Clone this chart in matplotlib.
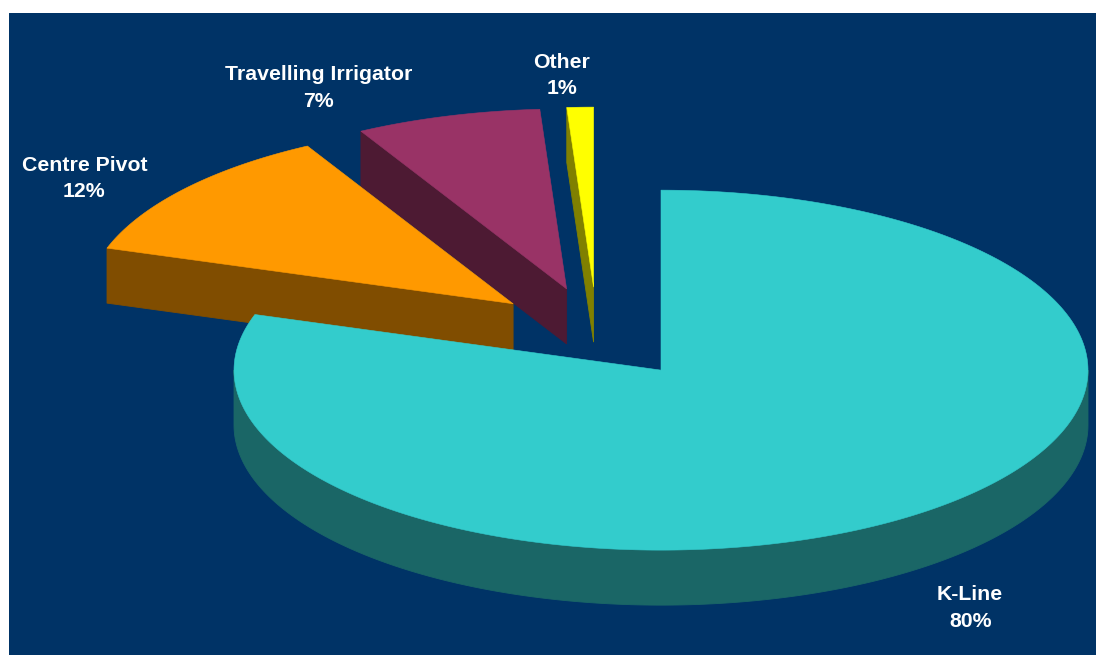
import numpy as np
import matplotlib
matplotlib.use("Agg")
import matplotlib.pyplot as plt
from matplotlib.patches import Polygon

# Irrigation method shares (percent)
categories = ["K-Line", "Centre Pivot", "Travelling Irrigator", "Other"]
shares = [80, 12, 7, 1]
top_colors = ["#33CCCC", "#FF9900", "#993366", "#FFFF00"]
side_colors = ["#1A6666", "#804D00", "#4D1A33", "#808000"]
# small hand adjustments of label placement (pixels)
label_nudge = [(0, 0), (-4, 1), (-23, 12), (-17, 9)]

W, H = 1096, 655
fig = plt.figure(figsize=(W / 100, H / 100), dpi=100)
fig.patch.set_facecolor("white")

# panel in pixel units (y grows downward)
left, top = 9, 13
ax = fig.add_axes([left / W, 0, (W - left) / W, (H - top) / H])
ax.set_facecolor("#003366")
ax.set_xlim(left, W)
ax.set_ylim(H, top)
ax.set_axis_off()
ax.add_patch(plt.Rectangle((left, top), W - left, H - top, color="#003366", zorder=0))

# pie geometry (projected ellipse)
cx, cy = 597.0, 333.0
rx, ry = 427.0, 180.0
depth = 55.0
explode = 0.255
start_angle = 90.0


def rim(px, py, t):
    return px + rx * np.cos(t), py - ry * np.sin(t)


fracs = np.array(shares, dtype=float) / np.sum(shares)
slices = []
a_end = np.deg2rad(start_angle)
for i, f in enumerate(fracs):
    a_start = a_end - f * 2 * np.pi  # clockwise
    mid = 0.5 * (a_start + a_end)
    px = cx + explode * rx * np.cos(mid)
    py = cy - explode * ry * np.sin(mid)
    slices.append(dict(i=i, a1=a_start, a2=a_end, mid=mid, px=px, py=py))
    a_end = a_start

# paint from back to front
for s in sorted(slices, key=lambda d: d["py"]):
    i, a1, a2, px, py = s["i"], s["a1"], s["a2"], s["px"], s["py"]
    top_c, side_c = top_colors[i], side_colors[i]
    z = 2 + s["py"] / 1000

    # radial side faces facing the viewer
    for ang, visible in ((a2, np.cos(a2) < -1e-6), (a1, np.cos(a1) > 1e-6)):
        if visible:
            ex, ey = rim(px, py, ang)
            quad = [(px, py), (ex, ey), (ex, ey + depth), (px, py + depth)]
            ax.add_patch(Polygon(quad, closed=True, fc=side_c, ec=side_c, lw=0.6, zorder=z))

    # curved outer side on the front half
    segs = []
    lo, hi = max(a1, np.pi), min(a2, 2 * np.pi)
    if lo < hi:
        segs.append((lo, hi))
    lo2, hi2 = max(a1, -np.pi), min(a2, 0.0)
    if lo2 < hi2:
        segs.append((lo2, hi2))
    for lo_, hi_ in segs:
        t = np.linspace(lo_, hi_, 200)
        xs, ys = rim(px, py, t)
        pts = list(zip(xs, ys)) + list(zip(xs[::-1], ys[::-1] + depth))
        ax.add_patch(Polygon(pts, closed=True, fc=side_c, ec=side_c, lw=0.6, zorder=z + 0.0001))

    # top face
    t = np.linspace(a1, a2, 400)
    xs, ys = rim(px, py, t)
    pts = [(px, py)] + list(zip(xs, ys))
    ax.add_patch(Polygon(pts, closed=True, fc=top_c, ec=top_c, lw=0.4, zorder=z + 0.0002))

    # label outside the rim
    c, sn = np.cos(s["mid"]), np.sin(s["mid"])
    lx = px + 1.1 * rx * c + label_nudge[i][0]
    ly = py - 1.1 * ry * sn + label_nudge[i][1]
    if sn < 0:
        ly += depth
    ha = "center" if abs(c) < 0.2 else ("left" if c > 0 else "right")
    va = "bottom" if sn > 0.7 else ("top" if sn < -0.7 else "center")
    ax.text(lx, ly, f"{categories[i]}\n{shares[i]}%", color="white",
            fontsize=15.3, fontweight="bold", family=["Liberation Sans", "DejaVu Sans"],
            ha=ha, va=va, multialignment="center", linespacing=1.5, zorder=10)

fig.savefig("out.png", dpi=100, facecolor=fig.get_facecolor())
